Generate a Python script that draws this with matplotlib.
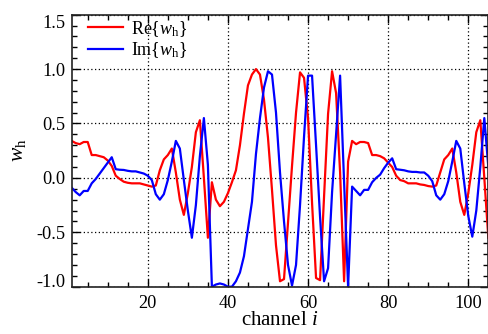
import matplotlib
matplotlib.use('Agg')
from matplotlib import pyplot as plt
from matplotlib.ticker import MultipleLocator
import numpy as np

plt.rcParams['font.family'] = ['Liberation Serif', 'DejaVu Serif']
plt.rcParams['mathtext.fontset'] = 'custom'
plt.rcParams['mathtext.rm'] = 'Liberation Serif'
plt.rcParams['mathtext.it'] = 'Liberation Serif:italic'
plt.rcParams['axes.unicode_minus'] = False
plt.rcParams['font.size'] = 13.2

# channel index 1..105
channel = np.arange(1, 106)

re_w = [0.34, 0.32, 0.31, 0.33, 0.33, 0.21, 0.21, 0.20, 0.19, 0.16,
        0.11, 0.02, -0.01, -0.035, -0.045, -0.05, -0.05, -0.05, -0.06, -0.07,
        -0.08, -0.07, 0.07, 0.17, 0.21, 0.27, 0.05, -0.20, -0.34, -0.14,
        0.10, 0.42, 0.53, 0.00, -0.55, -0.04, -0.20, -0.26, -0.22, -0.14,
        -0.04, 0.07, 0.30, 0.59, 0.85, 0.95, 1.00, 0.95, 0.72, 0.37,
        -0.11, -0.62, -0.95, -0.93, -0.41, 0.11, 0.60, 0.97, 0.92, 0.55,
        -0.23, -0.92, -0.94, -0.17, 0.59, 0.98, 0.78, 0.05, -0.95, 0.15,
        0.34, 0.31, 0.33, 0.33, 0.32, 0.21, 0.21, 0.20, 0.18, 0.14,
        0.10, 0.02, -0.02, -0.03, -0.05, -0.05, -0.05, -0.06, -0.065, -0.075,
        -0.08, -0.07, 0.05, 0.17, 0.21, 0.27, 0.05, -0.22, -0.34, -0.14,
        0.12, 0.42, 0.53, 0.00, -0.55]

im_w = [-0.09, -0.13, -0.16, -0.12, -0.12, -0.05, -0.01, 0.04, 0.09, 0.14,
        0.19, 0.08, 0.075, 0.073, 0.065, 0.06, 0.06, 0.05, 0.04, 0.02,
        -0.02, -0.15, -0.20, -0.15, -0.02, 0.15, 0.34, 0.27, -0.02, -0.30,
        -0.55, -0.25, 0.20, 0.55, 0.12, -1.00, -0.98, -0.97, -0.98, -1.00,
        -1.00, -0.95, -0.87, -0.72, -0.47, -0.22, 0.22, 0.55, 0.83, 0.98,
        0.95, 0.60, 0.05, -0.40, -0.80, -0.99, -0.80, -0.25, 0.38, 0.94,
        0.94, 0.30, -0.36, -0.95, -0.83, -0.13, 0.40, 0.94, -0.04, -1.00,
        -0.08, -0.12, -0.16, -0.11, -0.11, -0.04, 0.00, 0.03, 0.09, 0.14,
        0.18, 0.08, 0.075, 0.07, 0.06, 0.055, 0.055, 0.05, 0.05, 0.02,
        -0.03, -0.16, -0.20, -0.15, -0.03, 0.15, 0.34, 0.27, -0.05, -0.35,
        -0.54, -0.30, 0.10, 0.55, 0.10]

fig = plt.figure(figsize=(4.89, 3.34), dpi=100)
ax = fig.add_axes([0.1466, 0.1416, 0.852, 0.8144])

ax.plot(channel, re_w, color='#ff0000', lw=1.6, label='Re{$w_{\\rm h}$}')
ax.plot(channel, im_w, color='#0000ff', lw=1.6, label='Im{$w_{\\rm h}$}')

ax.set_xlim(1, 105)
ax.set_ylim(-1.0, 1.5)
ax.set_xticks([20, 40, 60, 80, 100])
ax.set_yticks([-1.0, -0.5, 0.0, 0.5, 1.0, 1.5])
ax.set_yticklabels(['-1.0', '-0.5', '0.0', '0.5', '1.0', '1.5'])
ax.xaxis.set_minor_locator(MultipleLocator(5))
ax.yaxis.set_minor_locator(MultipleLocator(0.1))
ax.tick_params(which='both', direction='in', top=True, right=True, width=1)
ax.tick_params(which='major', length=6)
ax.tick_params(which='minor', length=3.5)
ax.tick_params(axis='y', pad=4.5)
ax.tick_params(axis='x', pad=6)
ax.grid(True, which='major', color='black', linestyle=(0, (1, 2)), lw=0.9)
for s in ax.spines.values():
    s.set_linewidth(1.2)
    s.set_color('#222222')

# edge labels sit inside the frame
yt = ax.yaxis.get_major_ticks()
yt[0].label1.set_verticalalignment('baseline')
yt[-1].label1.set_verticalalignment('top')

ax.set_xlabel('channel $i$', fontsize=15)
ax.xaxis.set_label_coords(0.5, -0.088)
ax.set_ylabel('$w_{\\rm h}$', fontsize=15.5)
ax.yaxis.set_label_coords(-0.105, 0.5)

ax.legend(loc='upper left', bbox_to_anchor=(0.039, 0.985), frameon=False,
          borderpad=0, borderaxespad=0, handlelength=1.95, handletextpad=0.45,
          labelspacing=0.1, fontsize=13)

plt.savefig('out.png', dpi=100)
